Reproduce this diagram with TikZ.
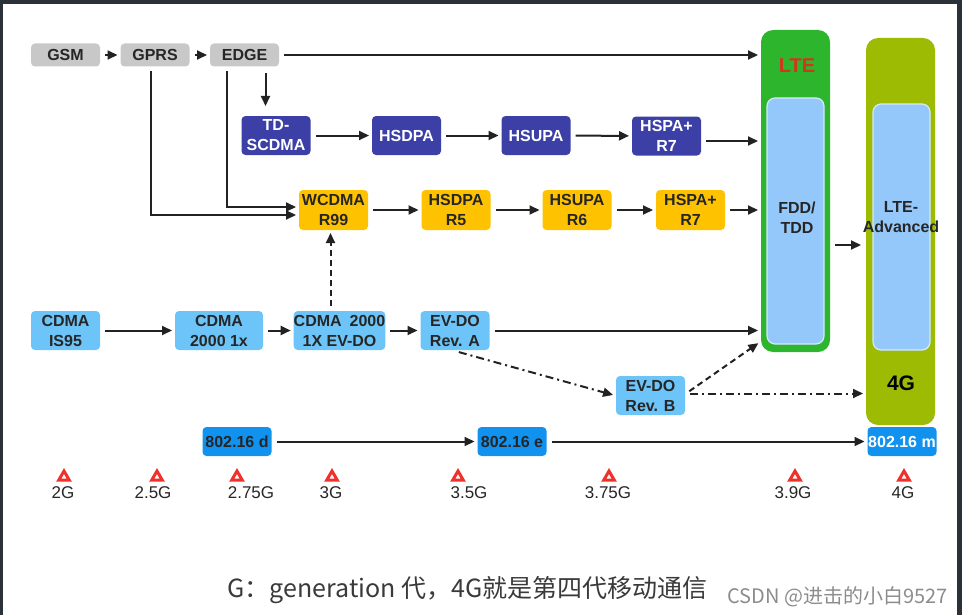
\documentclass[tikz,border=0pt]{standalone}
\usepackage{fontspec}
\setmainfont{Liberation Sans}
\newfontfamily\cjkfont{Noto Sans CJK SC}
\usetikzlibrary{arrows.meta,shapes.geometric}
\definecolor{boxgray}{HTML}{C8C8C8}
\definecolor{tdblue}{HTML}{3C40A6}
\definecolor{wyellow}{HTML}{FFC200}
\definecolor{cdmablue}{HTML}{6CC4F8}
\definecolor{wimaxblue}{HTML}{1192EE}
\definecolor{ltegreen}{HTML}{2DB52D}
\definecolor{olive}{HTML}{9CBB02}
\definecolor{innerblue}{HTML}{95C8FA}
\definecolor{ltered}{HTML}{D2361A}
\definecolor{tickred}{HTML}{F0302A}
\definecolor{txtdark}{HTML}{262626}
\definecolor{linegray}{HTML}{222222}
\definecolor{captiongray}{HTML}{3A3A3A}
\definecolor{wmgray}{HTML}{8C8C8C}
\definecolor{framedark}{HTML}{2B3138}

\begin{document}
\begin{tikzpicture}[x=0.5pt,y=-0.5pt,>={Triangle[length=5pt,width=4.5pt]},line width=1pt,
  every node/.style={inner sep=0pt,align=center,font=\fontsize{8}{10}\selectfont\bfseries},
  box/.style={rounded corners=2pt,minimum width=34.5pt},
  gbox/.style={box,fill=boxgray,text=txtdark,minimum height=11.5pt},
  bbox/.style={box,fill=tdblue,text=white,minimum height=19.5pt},
  ybox/.style={box,fill=wyellow,text=txtdark,minimum height=20pt},
  cbox/.style={box,fill=cdmablue,text=txtdark,minimum height=19.5pt},
  wbox/.style={box,fill=wimaxblue,text=txtdark,minimum height=14.5pt},
  column/.style={rounded corners=6pt,minimum width=34.5pt},
  inner/.style={fill=innerblue,draw=white!60!innerblue,line width=0.6pt,rounded corners=4pt,minimum width=28.5pt,minimum height=123pt},
  arr/.style={->,draw=linegray,shorten <=2pt,shorten >=1pt},
  dotarr/.style={arr,dash pattern=on 3pt off 2pt},
  dasharr/.style={arr,dash pattern=on 4pt off 2pt on 1pt off 2pt},
  tick/.style={regular polygon,regular polygon sides=3,draw=tickred,fill=white,line width=1.5pt,minimum size=6pt},
  gen/.style={font=\fontsize{8.5}{10}\selectfont,text=txtdark}]
\useasboundingbox (0,0) rectangle (962,615);
% screenshot frame
\fill[framedark] (0,0) rectangle (962,4);
\fill[framedark] (0,0) rectangle (2.5,615);
\fill[framedark] (957,0) rectangle (962,615);

% LTE and LTE-Advanced columns
\node[column,fill=ltegreen,minimum height=161pt] (lte) at (795.5,191) {};
\node[inner] (lteinner) at (795.5,221) {};
\node[text=ltered,font=\fontsize{10}{12}\selectfont\bfseries] (ltelabel) at (797,66) {LTE};
\node[text=txtdark] (fdd) at (797,218) {FDD/\\TDD};
\node[column,fill=olive,minimum height=193.5pt] (ltea) at (900.5,231.5) {};
\node[inner] (lteainner) at (901.5,227) {};
\node[text=txtdark] (ltealabel) at (901,217) {LTE-\\Advanced};
\node[text=black,font=\fontsize{10.5}{12}\selectfont\bfseries] (fourg) at (901,383) {4G};

% GSM row
\node[gbox] (gsm) at (65.5,55) {GSM}; \node[gbox] (gprs) at (155,55) {GPRS}; \node[gbox] (edge) at (244.5,55) {EDGE};
% TD-SCDMA row
\node[bbox] (tdscdma) at (276,135.5) {TD-\\SCDMA}; \node[bbox] (hsdpab) at (406.5,135.5) {HSDPA};
\node[bbox] (hsupab) at (536,135.5) {HSUPA}; \node[bbox] (hspab) at (666.5,136) {HSPA+\\R7};
% WCDMA row
\node[ybox] (wcdma) at (333.5,210) {WCDMA\\R99}; \node[ybox] (hsdpay) at (456,210) {HSDPA\\R5};
\node[ybox] (hsupay) at (577,210) {HSUPA\\R6}; \node[ybox] (hspay) at (690.5,210) {HSPA+\\R7};
% CDMA row
\node[cbox] (is95) at (65.5,330.5) {CDMA\\IS95}; \node[cbox,minimum width=44pt] (cdma1x) at (219,330.5) {CDMA\\2000 1x};
\node[cbox,minimum width=44.5pt] (evdo) at (339.5,330.5) {CDMA\enspace2000\\1X EV-DO}; \node[cbox] (reva) at (455,330.5) {EV-DO\\Rev. A};
\node[cbox] (revb) at (650.5,395.5) {EV-DO\\Rev. B};
% WiMAX row
\node[wbox] (wd) at (237,441.5) {802.16 d}; \node[wbox] (we) at (512,441.5) {802.16 e};
\node[wbox,text=white] (wm) at (902,441.5) {802.16 m};

\draw[arr] (gsm) -- (gprs);
\draw[arr] (gprs) -- (edge);
\draw[arr] (edge) -- (edge -| lte.west);
\draw[arr,shorten <=3pt,shorten >=4.5pt] ([xshift=10.5pt]edge.south) -- ([xshift=10.5pt]edge.south |- tdscdma.north);
\draw[arr] ([xshift=-2pt]gprs.south) |- ([yshift=-2.5pt]wcdma.west);
\draw[arr] ([xshift=-9pt]edge.south) |- ([yshift=1.5pt]wcdma.west);

\draw[arr] (tdscdma) -- (hsdpab);
\draw[arr] (hsdpab) -- (hsupab);
\draw[arr] (hsupab) -- (hspab);
\draw[arr] ([yshift=-2.5pt]hspab.east) -- ([yshift=-2.5pt]hspab.east -| lte.west);

\draw[arr] (wcdma) -- (hsdpay);
\draw[arr] (hsdpay) -- (hsupay);
\draw[arr] (hsupay) -- (hspay);
\draw[arr] (hspay) -- (hspay -| lte.west);

\draw[arr] (is95) -- (cdma1x);
\draw[arr] (cdma1x) -- (evdo);
\draw[arr] (evdo) -- (reva);
\draw[arr] (reva) -- (reva -| lte.west);
\draw[dotarr] ([xshift=-1.5pt]wcdma.south |- evdo.north) -- ([xshift=-1.5pt]wcdma.south);
\draw[dasharr] (reva.south) -- (revb.west);
\draw[dotarr] ([yshift=1pt]revb.east) -- ([yshift=5.5pt]lte.south west);
\draw[dasharr] ([yshift=1pt]revb.east) -- ([yshift=1pt]revb.east -| ltea.west);

\draw[arr,shorten >=2pt] ([yshift=-27pt]lte.east) -- ([yshift=-27pt]lte.east -| ltea.west);
\draw[arr] (wd) -- (we);
\draw[arr] (we) -- (wm);

% generations
\node[tick] (m2g) at (64,477) {}; \node[gen] (g2) at (63,493) {2G};
\node[tick] (m25g) at (157,477) {}; \node[gen] (g25) at (153,493) {2.5G};
\node[tick] (m275g) at (237,477) {}; \node[gen] (g275) at (251,493) {2.75G};
\node[tick] (m3g) at (332,477) {}; \node[gen] (g3) at (331,493) {3G};
\node[tick] (m35g) at (458,477) {}; \node[gen] (g35) at (469,493) {3.5G};
\node[tick] (m375g) at (609,477) {}; \node[gen] (g375) at (608,493) {3.75G};
\node[tick] (m39g) at (795,477) {}; \node[gen] (g39) at (793,493) {3.9G};
\node[tick] (m4g) at (904,477) {}; \node[gen] (g4) at (903,493) {4G};

\node[font=\cjkfont\fontsize{12.5}{14}\selectfont,text=captiongray] (caption) at (467.5,590) {G：generation 代，4G就是第四代移动通信};
\node[font=\cjkfont\fontsize{10}{12}\selectfont,text=wmgray] (watermark) at (837.5,597) {CSDN @进击的小白9527};
\end{tikzpicture}
\end{document}
